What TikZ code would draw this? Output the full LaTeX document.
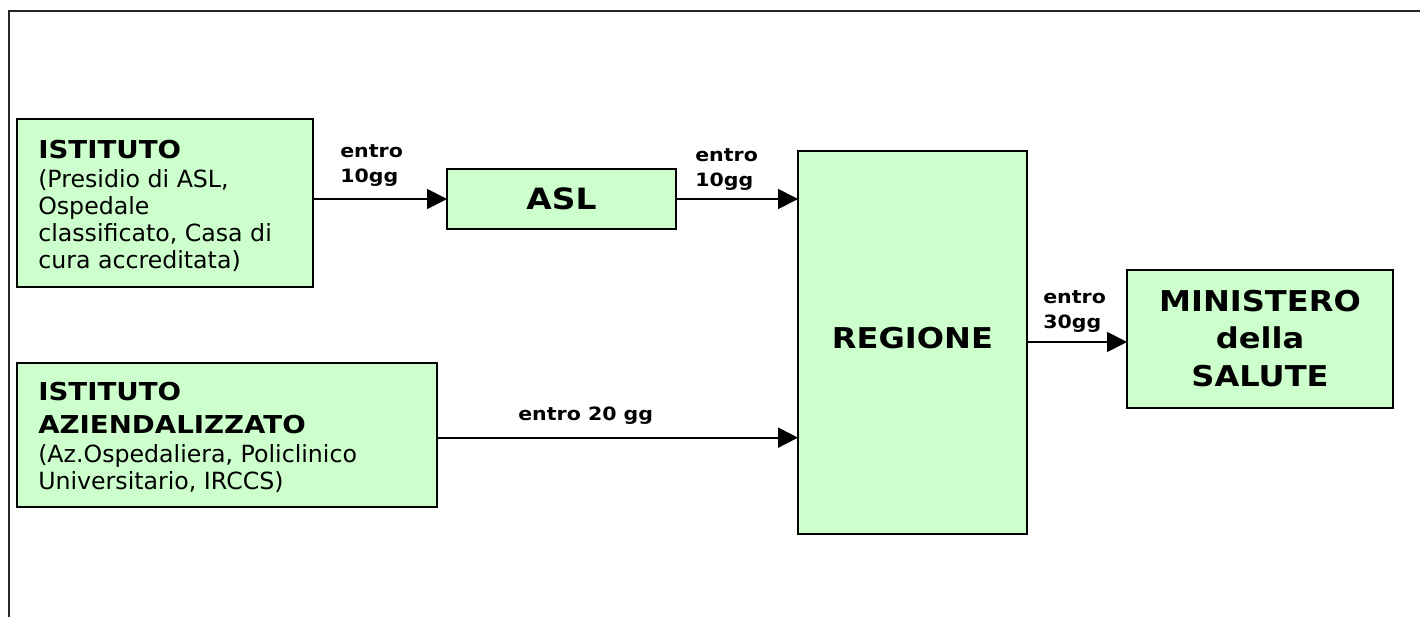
\documentclass[tikz,border=0pt]{standalone}
\usepackage{fontspec}
\setmainfont{DejaVu Sans}
\newfontfamily\widesans{DejaVu Sans}[FakeStretch=1.12]
\usetikzlibrary{arrows.meta}
\definecolor{boxgreen}{HTML}{CCFFCC}
\newcommand\headfont{\widesans\bfseries\fontsize{18.5}{20.25}\selectfont}

\begin{document}
\begin{tikzpicture}[x=0.75pt,y=-0.75pt,
  box/.style={draw=black, fill=boxgreen, line width=1.5pt, inner sep=0pt, outer sep=0pt},
  flow/.style={draw=black, line width=1.4pt, -{Triangle[length=15pt,width=15pt]}},
  note/.style={inner sep=0pt, align=left, font=\widesans\bfseries\fontsize{13.75}{18.75}\selectfont},
  body/.style={inner sep=0pt, align=left, font=\fontsize{17.75}{20.25}\selectfont},
  big/.style={inner sep=0pt, align=center, font=\widesans\bfseries\fontsize{21.5}{28}\selectfont}
]
\useasboundingbox (0,0) rectangle (1420,617);

% page frame
\draw[line width=1.1pt, black!85] (9,617) -- (9,11) -- (1420,11);

% boxes
\node[box, minimum width=222pt, minimum height=126pt] (ist) at (165,203) {};
\node[box, minimum width=315pt, minimum height=108pt] (aza) at (227,435) {};
\node[box, minimum width=171.75pt, minimum height=45pt,
      font=\widesans\bfseries\fontsize{22}{26}\selectfont] (asl) at (561.5,199) {ASL};
\node[box, minimum width=171.75pt, minimum height=287.25pt] (reg) at (912.5,342) {};
\node[box, minimum width=199.5pt, minimum height=103.5pt, big] (min) at (1260,338.5)
  {MINISTERO\\della\\SALUTE};

% box texts (base anchor sits on the last line)
\node[body, anchor=base west] (istT) at (38,268)
  {{\headfont ISTITUTO}\\[1.5pt](Presidio di ASL,\\Ospedale\\classificato, Casa di\\cura accreditata)};
\node[body, anchor=base west] (azaT) at (38,489)
  {{\headfont ISTITUTO}\\[4.5pt]{\headfont AZIENDALIZZATO}\\[1.5pt](Az.Ospedaliera, Policlinico\\Universitario, IRCCS)};
\node[big, anchor=base] (regT) at (912.5,348) {REGIONE};

% connectors
\draw[flow] (ist.east |- asl.west) -- (asl.west);
\draw[flow] (asl.east) -- (asl.east -| reg.west);
\draw[flow] ([yshift=-2pt]aza.east) -- ([yshift=-2pt]aza.east -| reg.west);
\draw[flow] (reg.east) -- (reg.east -| min.west);

% connector labels
\node[note, anchor=base west] (l1) at (340,182) {entro\\10gg};
\node[note, anchor=base west] (l2) at (695,186) {entro\\10gg};
\node[note, anchor=base west] (l3) at (518,420) {entro 20 gg};
\node[note, anchor=base west] (l4) at (1043,328) {entro\\30gg};
\end{tikzpicture}
\end{document}
